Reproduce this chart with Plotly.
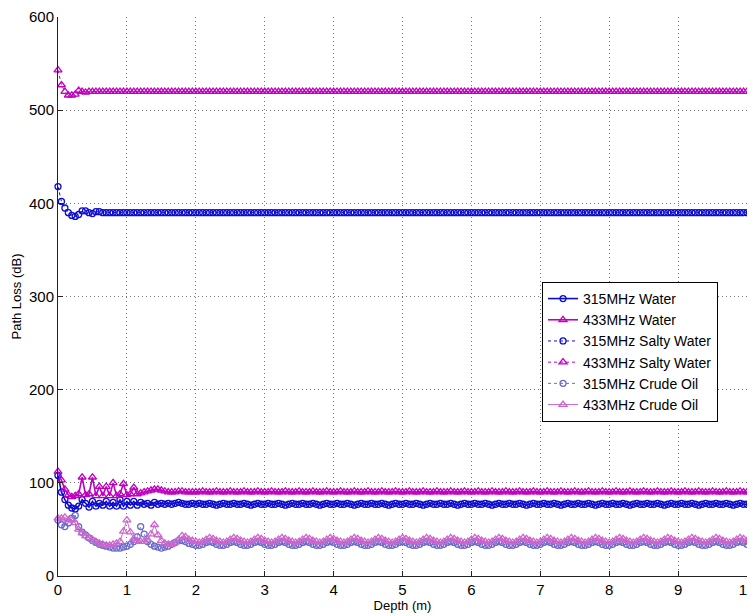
import numpy as np
import plotly.graph_objects as go

# Depth grid (m), 0.05 m sampling
depth = np.round(np.arange(0, 10.0001, 0.05), 2)

salty_315 = (
    [418, 402, 395, 390, 387, 386, 388, 392, 392, 390, 389, 391, 391, 390, 390, 390, 390, 390, 390, 390]
    + [390, 390, 390, 390, 390, 390, 390, 390, 390, 390, 390, 390, 390, 390, 390, 390, 390, 390, 390, 390]
    + [390, 390, 390, 390, 390, 390, 390, 390, 390, 390, 390, 390, 390, 390, 390, 390, 390, 390, 390, 390]
    + [390, 390, 390, 390, 390, 390, 390, 390, 390, 390, 390, 390, 390, 390, 390, 390, 390, 390, 390, 390]
    + [390, 390, 390, 390, 390, 390, 390, 390, 390, 390, 390, 390, 390, 390, 390, 390, 390, 390, 390, 390]
    + [390, 390, 390, 390, 390, 390, 390, 390, 390, 390, 390, 390, 390, 390, 390, 390, 390, 390, 390, 390]
    + [390, 390, 390, 390, 390, 390, 390, 390, 390, 390, 390, 390, 390, 390, 390, 390, 390, 390, 390, 390]
    + [390, 390, 390, 390, 390, 390, 390, 390, 390, 390, 390, 390, 390, 390, 390, 390, 390, 390, 390, 390]
    + [390, 390, 390, 390, 390, 390, 390, 390, 390, 390, 390, 390, 390, 390, 390, 390, 390, 390, 390, 390]
    + [390, 390, 390, 390, 390, 390, 390, 390, 390, 390, 390, 390, 390, 390, 390, 390, 390, 390, 390, 390]
    + [390]
)

salty_433 = (
    [543, 527, 520, 516, 516, 517, 521, 520, 519, 520, 520, 520, 520, 520, 520, 520, 520, 520, 520, 520]
    + [520, 520, 520, 520, 520, 520, 520, 520, 520, 520, 520, 520, 520, 520, 520, 520, 520, 520, 520, 520]
    + [520, 520, 520, 520, 520, 520, 520, 520, 520, 520, 520, 520, 520, 520, 520, 520, 520, 520, 520, 520]
    + [520, 520, 520, 520, 520, 520, 520, 520, 520, 520, 520, 520, 520, 520, 520, 520, 520, 520, 520, 520]
    + [520, 520, 520, 520, 520, 520, 520, 520, 520, 520, 520, 520, 520, 520, 520, 520, 520, 520, 520, 520]
    + [520, 520, 520, 520, 520, 520, 520, 520, 520, 520, 520, 520, 520, 520, 520, 520, 520, 520, 520, 520]
    + [520, 520, 520, 520, 520, 520, 520, 520, 520, 520, 520, 520, 520, 520, 520, 520, 520, 520, 520, 520]
    + [520, 520, 520, 520, 520, 520, 520, 520, 520, 520, 520, 520, 520, 520, 520, 520, 520, 520, 520, 520]
    + [520, 520, 520, 520, 520, 520, 520, 520, 520, 520, 520, 520, 520, 520, 520, 520, 520, 520, 520, 520]
    + [520, 520, 520, 520, 520, 520, 520, 520, 520, 520, 520, 520, 520, 520, 520, 520, 520, 520, 520, 520]
    + [520]
)

water_315 = (
    [108, 90, 82, 76, 73, 72, 75, 82, 78, 74, 80, 75, 78, 76, 80, 75, 79, 75, 82, 75]
    + [80, 76, 80, 76, 79, 77, 78, 76, 79, 77, 78, 77, 78, 77, 78, 79, 78, 77, 77, 78]
    + [77, 78, 77, 77, 78, 77, 76, 77, 78, 77, 77, 78, 77, 77, 78, 77, 76, 77, 78, 77]
    + [77, 78, 77, 77, 78, 77, 76, 77, 78, 77, 77, 78, 77, 77, 78, 77, 76, 77, 78, 77]
    + [77, 78, 77, 77, 78, 77, 76, 77, 78, 77, 77, 78, 77, 77, 78, 77, 76, 77, 78, 77]
    + [77, 78, 77, 77, 78, 77, 76, 77, 78, 77, 77, 78, 77, 77, 78, 77, 76, 77, 78, 77]
    + [77, 78, 77, 77, 78, 77, 76, 77, 78, 77, 77, 78, 77, 77, 78, 77, 76, 77, 78, 77]
    + [77, 78, 77, 77, 78, 77, 76, 77, 78, 77, 77, 78, 77, 77, 78, 77, 76, 77, 78, 77]
    + [77, 78, 77, 77, 78, 77, 76, 77, 78, 77, 77, 78, 77, 77, 78, 77, 76, 77, 78, 77]
    + [77, 78, 77, 77, 78, 77, 76, 77, 78, 77, 77, 78, 77, 77, 78, 77, 76, 77, 78, 77]
    + [77]
)

water_433 = (
    [112, 103, 93, 87, 85, 86, 88, 106, 87, 88, 106, 86, 96, 86, 96, 86, 100, 86, 88, 99]
    + [87, 88, 95, 88, 89, 90, 91, 92, 93, 93, 92, 91, 90, 90, 90, 91, 91, 90, 90, 90]
    + [90, 90, 91, 90, 90, 90, 91, 90, 90, 90, 91, 90, 90, 90, 91, 90, 90, 90, 91, 90]
    + [90, 90, 91, 90, 90, 90, 91, 90, 90, 90, 91, 90, 90, 90, 91, 90, 90, 90, 91, 90]
    + [90, 90, 91, 90, 90, 90, 91, 90, 90, 90, 91, 90, 90, 90, 91, 90, 90, 90, 91, 90]
    + [90, 90, 91, 90, 90, 90, 91, 90, 90, 90, 91, 90, 90, 90, 91, 90, 90, 90, 91, 90]
    + [90, 90, 91, 90, 90, 90, 91, 90, 90, 90, 91, 90, 90, 90, 91, 90, 90, 90, 91, 90]
    + [90, 90, 91, 90, 90, 90, 91, 90, 90, 90, 91, 90, 90, 90, 91, 90, 90, 90, 91, 90]
    + [90, 90, 91, 90, 90, 90, 91, 90, 90, 90, 91, 90, 90, 90, 91, 90, 90, 90, 91, 90]
    + [90, 90, 91, 90, 90, 90, 91, 90, 90, 90, 91, 90, 90, 90, 91, 90, 90, 90, 91, 90]
    + [90]
)

crude_315 = (
    [60, 55, 53, 57, 62, 65, 53, 47, 44, 41, 38, 36, 34, 33, 32, 31, 30, 30, 30, 31]
    + [32, 34, 37, 42, 53, 45, 37, 34, 32, 31, 30, 31, 32, 34, 36, 38, 38, 37, 35, 34]
    + [33, 33, 34, 36, 37, 36, 34, 33, 33, 34, 36, 37, 36, 34, 33, 33, 34, 36, 37, 36]
    + [34, 33, 33, 34, 36, 37, 36, 34, 33, 33, 34, 36, 37, 36, 34, 33, 33, 34, 36, 37]
    + [36, 34, 33, 33, 34, 36, 37, 36, 34, 33, 33, 34, 36, 37, 36, 34, 33, 33, 34, 36]
    + [37, 36, 34, 33, 33, 34, 36, 37, 36, 34, 33, 33, 34, 36, 37, 36, 34, 33, 33, 34]
    + [36, 37, 36, 34, 33, 33, 34, 36, 37, 36, 34, 33, 33, 34, 36, 37, 36, 34, 33, 33]
    + [34, 36, 37, 36, 34, 33, 33, 34, 36, 37, 36, 34, 33, 33, 34, 36, 37, 36, 34, 33]
    + [33, 34, 36, 37, 36, 34, 33, 33, 34, 36, 37, 36, 34, 33, 33, 34, 36, 37, 36, 34]
    + [33, 33, 34, 36, 37, 36, 34, 33, 33, 34, 36, 37, 36, 34, 33, 33, 34, 36, 37, 36]
    + [34]
)

crude_433 = (
    [62, 62, 63, 60, 60, 57, 50, 46, 43, 41, 39, 37, 35, 34, 33, 33, 34, 35, 37, 48]
    + [60, 47, 40, 38, 37, 37, 39, 45, 55, 44, 38, 35, 34, 34, 36, 39, 43, 42, 39, 38]
    + [37, 36, 37, 39, 41, 40, 38, 37, 36, 37, 39, 41, 40, 38, 37, 36, 37, 39, 41, 40]
    + [38, 37, 36, 37, 39, 41, 40, 38, 37, 36, 37, 39, 41, 40, 38, 37, 36, 37, 39, 41]
    + [40, 38, 37, 36, 37, 39, 41, 40, 38, 37, 36, 37, 39, 41, 40, 38, 37, 36, 37, 39]
    + [41, 40, 38, 37, 36, 37, 39, 41, 40, 38, 37, 36, 37, 39, 41, 40, 38, 37, 36, 37]
    + [39, 41, 40, 38, 37, 36, 37, 39, 41, 40, 38, 37, 36, 37, 39, 41, 40, 38, 37, 36]
    + [37, 39, 41, 40, 38, 37, 36, 37, 39, 41, 40, 38, 37, 36, 37, 39, 41, 40, 38, 37]
    + [36, 37, 39, 41, 40, 38, 37, 36, 37, 39, 41, 40, 38, 37, 36, 37, 39, 41, 40, 38]
    + [37, 36, 37, 39, 41, 40, 38, 37, 36, 37, 39, 41, 40, 38, 37, 36, 37, 39, 41, 40]
    + [38]
)

x_ticks = [0, 1, 2, 3, 4, 5, 6, 7, 8, 9, 10]
y_ticks = [0, 100, 200, 300, 400, 500, 600]

BLUE = "#0c0cd0"
MAG = "#c000c0"
LBLUE = "#6a6acc"
LMAG = "#cc66cc"

series = [
    ("315MHz Water", water_315, BLUE, "solid", 1.6, "circle-open", 6),
    ("433MHz Water", water_433, MAG, "solid", 1.6, "triangle-up-open", 7),
    ("315MHz Salty Water", salty_315, BLUE, "dot", 1.0, "circle-open", 6),
    ("433MHz Salty Water", salty_433, MAG, "dot", 1.0, "triangle-up-open", 7),
    ("315MHz Crude Oil", crude_315, LBLUE, "dot", 1.0, "circle-open", 6),
    ("433MHz Crude Oil", crude_433, LMAG, "solid", 1.0, "triangle-up-open", 7),
]

fig = go.Figure()
for name, vals, col, dash, lw, sym, ms in series:
    fig.add_trace(go.Scatter(
        x=depth, y=vals, name=name, mode="lines+markers",
        line=dict(color=col, dash=dash, width=lw),
        marker=dict(symbol=sym, size=ms, color=col, line=dict(width=1.3, color=col)),
        cliponaxis=False,
    ))

FONT = "Liberation Sans, Arial, sans-serif"
axis_common = dict(
    showline=True, linecolor="#222222", linewidth=1, mirror=False,
    ticks="inside", ticklen=5, tickcolor="#222222",
    showgrid=True, gridcolor="#777777", griddash="1px,3px", gridwidth=1,
    zeroline=False, automargin=False, ticklabeloverflow="allow",
    tickfont=dict(family=FONT, size=15, color="black"),
)

# The page body has an 8px default margin; the figure is offset by it and the
# window crops the overflow at the right/bottom edges.
fig.update_layout(
    width=755, height=616,
    margin=dict(l=50, r=16, t=9, b=48),
    paper_bgcolor="white", plot_bgcolor="white",
    font=dict(family=FONT, size=13, color="black"),
    xaxis=dict(range=[0, 10], tickvals=x_ticks, ticktext=[str(v) for v in x_ticks],
               title=dict(text="Depth (m)", font=dict(size=13), standoff=0), **axis_common),
    yaxis=dict(range=[0, 600], tickvals=y_ticks, ticktext=[str(v) for v in y_ticks],
               title=dict(text="Path Loss (dB)", font=dict(size=13), standoff=4), **axis_common),
    legend=dict(x=0.7025, y=0.526, xanchor="left", yanchor="top",
                bgcolor="white", bordercolor="black", borderwidth=1,
                font=dict(size=14), tracegroupgap=0, itemwidth=30),
    showlegend=True,
)

fig.write_html("out.html")
